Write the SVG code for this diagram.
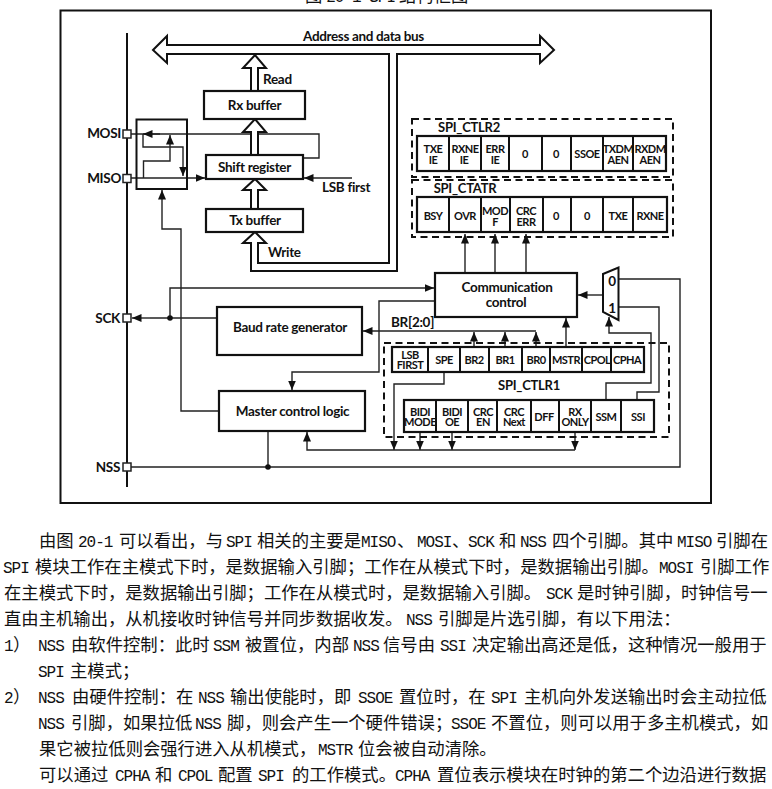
<svg xmlns="http://www.w3.org/2000/svg" width="772" height="789" viewBox="0 0 772 789">
<style>
text{fill:#111}
.d text,text.d{font-family:"Lato","Liberation Sans",sans-serif;font-weight:700;letter-spacing:-.3px}
.lb{font-size:13.5px}
.c{text-anchor:middle}
.r{text-anchor:end}
.reg text{font-size:11px;text-anchor:middle;letter-spacing:-.5px}
.reg text.t{font-size:13px;letter-spacing:-.25px}
.box{fill:#fff;stroke:#111;stroke-width:2.2}
.sep{fill:none;stroke:#111;stroke-width:2}
.dash{fill:none;stroke:#111;stroke-width:2;stroke-dasharray:7 4.5}
.w{fill:none;stroke:#222;stroke-width:1.4}
.a{marker-end:url(#tip)}
.fat{fill:#fff;stroke:#111;stroke-width:2;stroke-linejoin:miter}
.pin{fill:#fff;stroke:#222;stroke-width:1.5}
.p text{font-family:"Noto Sans CJK SC",sans-serif;font-size:17.33px}
.p text tspan.m{font-family:"Liberation Mono",monospace;font-size:16px;letter-spacing:-1px}
</style>
<defs>
<marker id="tip" markerUnits="userSpaceOnUse" markerWidth="10" markerHeight="8" refX="9.5" refY="4" orient="auto"><path d="M0 0L9.5 4L0 8z" fill="#111"/></marker>
</defs>

<!-- caption above the block diagram, clipped by the top edge -->
<g class="p"><text x="305" y="2">图 <tspan class="m">20-1 SPI</tspan> 结构框图</text></g>

<rect x="60.5" y="10.5" width="650.5" height="492.5" fill="none" stroke="#111" stroke-width="2"/>

<!-- pin rail -->
<path d="M127 33V487" fill="none" stroke="#111" stroke-width="2"/>

<g id="connectors">
<!-- MOSI / MISO switching box wiring -->
<path class="w" d="M303 158H319V134H131"/>
<path class="w a" d="M160 134H143"/>
<path class="w a" d="M143 134V147H183V176"/>
<path class="w a" d="M131 178H205"/>
<path class="w a" d="M143.500 178V161H170V135"/>
<path class="w a" d="M352 178H304"/>
<!-- master logic to switching box -->
<path class="w a" d="M219 411H181V229H162V190"/>
<!-- clock -->
<path class="w" d="M217 318H150"/>
<path class="w a" d="M150 318H132"/>
<path class="w a" d="M170 318V288H434"/>
<circle cx="170" cy="318" r="2.800" fill="#111"/>
<!-- communication control to master logic -->
<path class="w a" d="M435 301H379V372H292V390"/>
<!-- baud rate select -->
<path class="w a" d="M536 331H363"/>
<path class="w a" d="M474 347V332"/>
<path class="w a" d="M505 347V332"/>
<path class="w a" d="M536 347V332"/>
<path class="w a" d="M566 347V318"/>
<!-- status flags -->
<path class="w a" d="M465 273V234"/>
<path class="w a" d="M495 273V234"/>
<path class="w a" d="M526 273V234"/>
<!-- NSS selection -->
<path class="w a" d="M603 295H578"/>
<path class="w" d="M618 279H680V467H131"/>
<path class="w" d="M618 307H659V392H637V400"/>
<path class="w a" d="M606 400V383H651V333H609V317"/>
<path class="w" d="M268 431V467"/>
<circle cx="268" cy="467" r="2.800" fill="#111"/>
<!-- mode bits to master logic -->
<path class="w a" d="M444 372V384H394V450"/>
<path class="w a" d="M420 432V450"/>
<path class="w a" d="M452 432V450"/>
<path class="w a" d="M575 432V450"/>
<path class="w a" d="M575 450H307V432"/>
</g>

<!-- system bus with its branch down to the write path -->
<g id="bus">
<path class="fat" d="M153 50L167 36V45H540V36L554 50L540 63V54H397V271H251V243H243L255 232L266 243H258V263H389V54H167V63Z"/>
<text class="d lb" x="303" y="41" style="letter-spacing:-.35px">Address and data bus</text>
</g>

<g id="read-arrow"><path class="fat" d="M251 91V68H243L255 55L266 68H258V91"/><text class="d lb" x="263" y="84">Read</text></g>
<g id="rx-arrow"><path class="fat" d="M251 155V132H243L255 119L266 132H258V155"/></g>
<g id="tx-arrow"><path class="fat" d="M251 209V190H243L255 179L266 190H258V209"/></g>

<g id="switch-box"><rect x="136.500" y="119.500" width="50.500" height="69.500" fill="none" stroke="#111" stroke-width="2"/></g>

<g id="pin-mosi"><rect class="pin" x="123" y="130" width="8" height="8"/><text class="d lb r" x="121" y="138">MOSI</text></g>
<g id="pin-miso"><rect class="pin" x="123" y="174.500" width="8" height="8"/><text class="d lb r" x="121" y="183">MISO</text></g>
<g id="pin-sck"><rect class="pin" x="123" y="314" width="8" height="8"/><text class="d lb r" x="120" y="323">SCK</text></g>
<g id="pin-nss"><rect class="pin" x="123" y="463" width="8" height="8"/><text class="d lb r" x="120" y="472">NSS</text></g>

<g id="rx-buffer"><rect class="box" x="204" y="91" width="101" height="28"/><text class="d lb c" x="254.500" y="110">Rx buffer</text></g>
<g id="shift-register"><rect class="box" x="206" y="155" width="97" height="24"/><text class="d lb c" x="254.500" y="172">Shift register</text></g>
<g id="tx-buffer"><rect class="box" x="206" y="209" width="97" height="23"/><text class="d lb c" x="255" y="225">Tx buffer</text></g>
<g id="baud-rate-generator"><rect class="box" x="217" y="307" width="145" height="48"/><text class="d lb c" x="290" y="332">Baud rate generator</text></g>
<g id="master-control-logic"><rect class="box" x="219" y="391" width="146" height="40"/><text class="d lb c" x="292.500" y="416">Master control logic</text></g>
<g id="communication-control"><rect class="box" x="435" y="273" width="142" height="44"/><text class="d lb c" x="507" y="292">Communication</text><text class="d lb c" x="506" y="307">control</text></g>

<g id="nss-mux"><path d="M603 274L618.500 267.500V320L603 312Z" fill="#fff" stroke="#111" stroke-width="2"/><text class="d lb c" x="612" y="286">0</text><text class="d lb c" x="612" y="313">1</text></g>

<text class="d lb" x="391" y="327">BR[2:0]</text>
<text class="d lb" x="322" y="192">LSB first</text>
<text class="d lb" x="268" y="257">Write</text>

<g id="spi-ctlr2" class="d reg">
<rect class="dash" x="412" y="119" width="261" height="58"/>
<text class="t" x="469" y="132">SPI_CTLR2</text>
<rect class="box" x="417" y="136" width="249" height="35"/>
<path class="sep" d="M449 136V171M481 136V171M509 136V171M542 136V171M571 136V171M603 136V171M633 136V171"/>
<text x="433" y="153">TXE</text><text x="433" y="164">IE</text>
<text x="465" y="153">RXNE</text><text x="464" y="164">IE</text>
<text x="495" y="153">ERR</text><text x="495" y="164">IE</text>
<text x="525" y="158">0</text><text x="556" y="158">0</text>
<text x="587" y="158">SSOE</text>
<text x="618" y="153">TXDM</text><text x="618" y="164">AEN</text>
<text x="650" y="153">RXDM</text><text x="650" y="164">AEN</text>
</g>

<g id="spi-ctatr" class="d reg">
<rect class="dash" x="412" y="180" width="261" height="57"/>
<text class="t" x="465" y="193">SPI_CTATR</text>
<rect class="box" x="417" y="197" width="250" height="35"/>
<path class="sep" d="M449 197V232M481 197V232M510 197V232M543 197V232M571 197V232M603 197V232M633 197V232"/>
<text x="433" y="220">BSY</text>
<text x="465" y="220">OVR</text>
<text x="495" y="215">MOD</text><text x="495" y="226">F</text>
<text x="526" y="215">CRC</text><text x="526" y="226">ERR</text>
<text x="556" y="220">0</text><text x="587" y="220">0</text>
<text x="618" y="220">TXE</text><text x="650" y="220">RXNE</text>
</g>

<g id="spi-ctlr1" class="d reg">
<rect class="dash" x="384" y="343" width="285" height="94"/>
<rect class="box" x="392" y="347" width="252" height="25"/>
<path class="sep" d="M428 347V372M460 347V372M489 347V372M522 347V372M550 347V372M582 347V372M611 347V372"/>
<text x="410" y="359">LSB</text><text x="410" y="369">FIRST</text>
<text x="444" y="364">SPE</text><text x="474" y="364">BR2</text><text x="505" y="364">BR1</text><text x="536" y="364">BR0</text>
<text x="566" y="364">MSTR</text><text x="597" y="364">CPOL</text><text x="627" y="364">CPHA</text>
<text class="t" x="529" y="390">SPI_CTLR1</text>
<rect class="box" x="404" y="400" width="250" height="32"/>
<path class="sep" d="M436 400V432M468 400V432M497 400V432M531 400V432M559 400V432M591 400V432M621 400V432"/>
<text x="420" y="416">BIDI</text><text x="420" y="426">MODE</text>
<text x="452" y="416">BIDI</text><text x="452" y="426">OE</text>
<text x="483" y="416">CRC</text><text x="483" y="426">EN</text>
<text x="514" y="416">CRC</text><text x="514" y="426">Next</text>
<text x="544" y="421">DFF</text>
<text x="575" y="416">RX</text><text x="575" y="426">ONLY</text>
<text x="606" y="421">SSM</text><text x="638" y="421">SSI</text>
</g>

<!-- explanatory paragraphs below the block diagram -->
<g class="p">
<text y="547"><tspan x="39">由图</tspan><tspan class="m" x="78">20-1</tspan><tspan x="119">可以看出，与</tspan><tspan class="m" x="226">SPI</tspan><tspan x="257">相关的主要是</tspan><tspan class="m" x="361">MISO</tspan><tspan x="397">、</tspan><tspan class="m" x="417">MOSI</tspan><tspan x="452">、</tspan><tspan class="m" x="468">SCK</tspan><tspan x="499">和</tspan><tspan class="m" x="520">NSS</tspan><tspan x="552">四个引脚。其中</tspan><tspan class="m" x="677">MISO</tspan><tspan x="716">引脚在</tspan></text>
<text y="573"><tspan class="m" x="3">SPI</tspan><tspan x="35">模块工作在主模式下时，是数据输入引脚；工作在从模式下时，是数据输出引脚。</tspan><tspan class="m" x="659">MOSI</tspan><tspan x="700">引脚工作</tspan></text>
<text y="599"><tspan x="4">在主模式下时，是数据输出引脚；工作在从模式时，是数据输入引脚。</tspan><tspan class="m" x="546">SCK</tspan><tspan x="577">是时钟引脚，时钟信号一</tspan></text>
<text y="625"><tspan x="4">直由主机输出，从机接收时钟信号并同步数据收发。</tspan><tspan class="m" x="406">NSS</tspan><tspan x="438">引脚是片选引脚，有以下用法：</tspan></text>
<text y="651"><tspan class="m" x="4">1</tspan><tspan x="13">）</tspan><tspan class="m" x="38">NSS</tspan><tspan x="71">由软件控制：此时</tspan><tspan class="m" x="213">SSM</tspan><tspan x="245">被置位，内部</tspan><tspan class="m" x="353">NSS</tspan><tspan x="383">信号由</tspan><tspan class="m" x="440">SSI</tspan><tspan x="472">决定输出高还是低，这种情况一般用于</tspan></text>
<text y="677"><tspan class="m" x="38">SPI</tspan><tspan x="70">主模式；</tspan></text>
<text y="703"><tspan class="m" x="4">2</tspan><tspan x="13">）</tspan><tspan class="m" x="38">NSS</tspan><tspan x="72">由硬件控制：在</tspan><tspan class="m" x="198">NSS</tspan><tspan x="230">输出使能时，即</tspan><tspan class="m" x="358">SSOE</tspan><tspan x="399">置位时，在</tspan><tspan class="m" x="491">SPI</tspan><tspan x="524">主机向外发送输出时会主动拉低</tspan></text>
<text y="729"><tspan class="m" x="38">NSS</tspan><tspan x="71">引脚，如果拉低</tspan><tspan class="m" x="195">NSS</tspan><tspan x="227">脚，则会产生一个硬件错误；</tspan><tspan class="m" x="451">SSOE</tspan><tspan x="491">不置位，则可以用于多主机模式，如</tspan></text>
<text y="755"><tspan x="39">果它被拉低则会强行进入从机模式，</tspan><tspan class="m" x="318">MSTR</tspan><tspan x="358">位会被自动清除。</tspan></text>
<text y="781"><tspan x="39">可以通过</tspan><tspan class="m" x="115">CPHA</tspan><tspan x="155">和</tspan><tspan class="m" x="178">CPOL</tspan><tspan x="218">配置</tspan><tspan class="m" x="258">SPI</tspan><tspan x="292">的工作模式。</tspan><tspan class="m" x="395">CPHA</tspan><tspan x="437">置位表示模块在时钟的第二个边沿进行数据</tspan></text>
</g>
</svg>
